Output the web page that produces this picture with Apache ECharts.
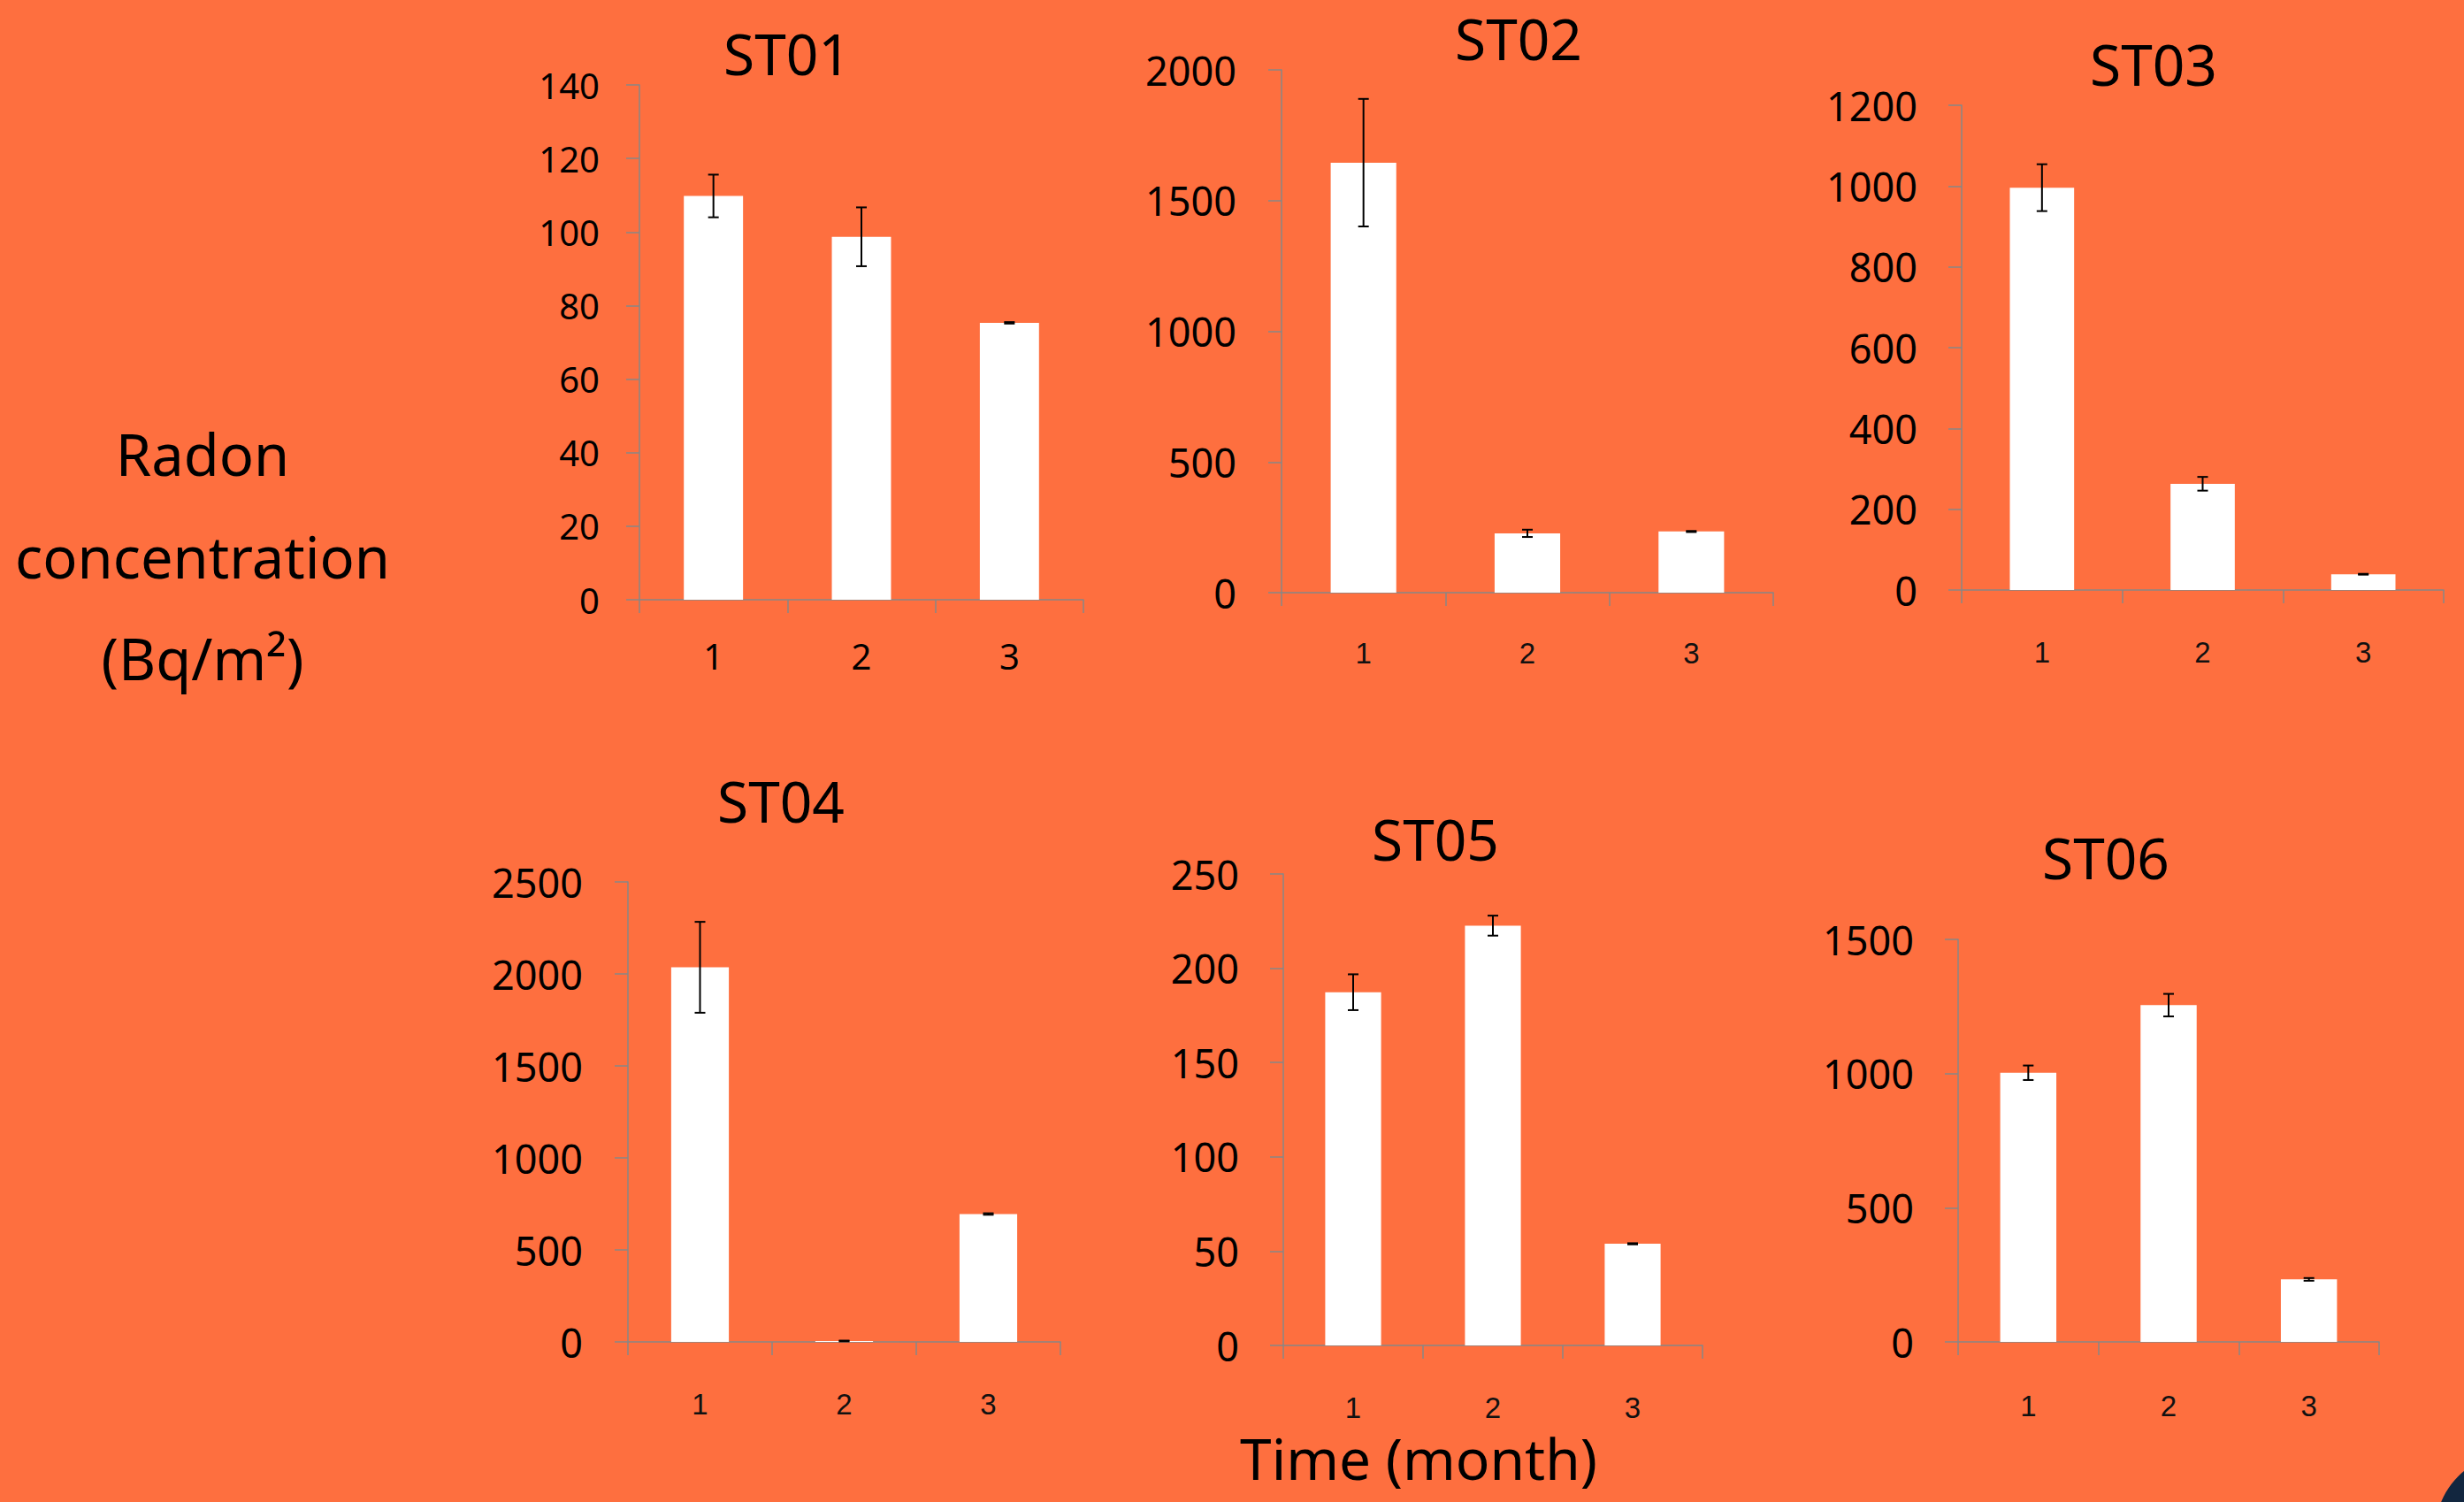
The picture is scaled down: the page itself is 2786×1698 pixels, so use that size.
<!DOCTYPE html>
<html>
<head>
<meta charset="utf-8">
<title>Radon concentration</title>
<script src="https://cdn.jsdelivr.net/npm/echarts@6/dist/echarts.min.js"></script>
<style>
  html, body { margin: 0; padding: 0; background: #FE6F3F; }
  #chart { width: 2786px; height: 1698px; }
</style>
</head>
<body>
<div id="chart"></div>
<script>
// ---------- DATA ----------
const categories = ['1', '2', '3'];
const stations = ['ST01', 'ST02', 'ST03', 'ST04', 'ST05', 'ST06'];

const st01Values = [109.8, 98.7, 75.3];
const st01Errors = [5.8, 8.0, 0.2];
const st02Values = [1645, 227, 234];
const st02Errors = [244, 14, 2];
const st03Values = [996, 263, 39];
const st03Errors = [58, 17, 1];
const st04Values = [2036, 5, 695];
const st04Errors = [247, 2, 4];
const st05Values = [187.3, 222.6, 53.9];
const st05Errors = [9.5, 5.3, 0.3];
const st06Values = [1003, 1255, 233];
const st06Errors = [27, 42, 5];

const yMaxes = [140, 2000, 1200, 2500, 250, 1500];
const yIntervals = [20, 500, 200, 500, 50, 500];

const yAxisTitle = ['Radon', 'concentration', '(Bq/m\u00B2)'];
const xAxisTitle = 'Time (month)';

// ---------- LAYOUT ----------
const allValues = [st01Values, st02Values, st03Values, st04Values, st05Values, st06Values];
const allErrors = [st01Errors, st02Errors, st03Errors, st04Errors, st05Errors, st06Errors];

const grids = [
  { left: 723, top: 96, width: 502, height: 582 },
  { left: 1449, top: 79, width: 556, height: 591 },
  { left: 2218, top: 119, width: 545, height: 548 },
  { left: 710, top: 997, width: 489, height: 520 },
  { left: 1451, top: 988, width: 474, height: 533 },
  { left: 2214, top: 1062, width: 476, height: 455 }
];
const titlePos = [[890, 60], [1717, 43], [2435, 72], [883, 905], [1623, 948], [2381, 969]];
const yLabelSize = [40, 45, 45, 45, 45, 45];
const yLabelMargin = [45, 51, 50, 51, 50, 50];
const xLabelMargin = [43, 52, 54, 54, 54, 56];

const axisGray = '#878787';
const mainFont = "'Noto Sans', 'Open Sans', sans-serif";
const tickFont = "'Liberation Sans', Arial, sans-serif";

const chart = echarts.init(document.getElementById('chart'), null, { renderer: 'svg' });

function errorRenderItem(params, api) {
  const x = api.value(0);
  const lo = api.value(1);
  const hi = api.value(2);
  const pHi = api.coord([x, hi]);
  const pLo = api.coord([x, lo]);
  const hw = 6;
  const st = { stroke: '#000', lineWidth: 2 };
  return {
    type: 'group',
    children: [
      { type: 'line', shape: { x1: pHi[0], y1: pHi[1], x2: pLo[0], y2: pLo[1] }, style: st },
      { type: 'line', shape: { x1: pHi[0] - hw, y1: pHi[1], x2: pHi[0] + hw, y2: pHi[1] }, style: st },
      { type: 'line', shape: { x1: pLo[0] - hw, y1: pLo[1], x2: pLo[0] + hw, y2: pLo[1] }, style: st }
    ]
  };
}

const xAxes = [], yAxes = [], series = [], graphics = [];

stations.forEach((name, i) => {
  xAxes.push({
    type: 'category',
    gridIndex: i,
    data: categories,
    axisLine: { lineStyle: { color: axisGray, width: 1.5 } },
    axisTick: { show: true, length: 15, lineStyle: { color: axisGray, width: 1.5 } },
    axisLabel: {
      color: i === 0 ? '#000' : '#111',
      fontSize: i === 0 ? 40 : 33,
      fontFamily: i === 0 ? mainFont : tickFont,
      margin: xLabelMargin[i]
    },
    splitLine: { show: false }
  });
  yAxes.push({
    type: 'value',
    gridIndex: i,
    min: 0,
    max: yMaxes[i],
    interval: yIntervals[i],
    axisLine: { show: true, lineStyle: { color: axisGray, width: 1.5 } },
    axisTick: { show: true, length: 15, lineStyle: { color: axisGray, width: 1.5 } },
    axisLabel: {
      color: '#000',
      fontSize: yLabelSize[i],
      fontFamily: mainFont,
      margin: yLabelMargin[i],
      formatter: (v) => String(v)
    },
    splitLine: { show: false }
  });
  series.push({
    type: 'bar',
    name: name,
    xAxisIndex: i,
    yAxisIndex: i,
    data: allValues[i],
    barWidth: '40%',
    itemStyle: { color: '#ffffff' },
    silent: true,
    z: 2
  });
  series.push({
    type: 'custom',
    name: name + ' error',
    xAxisIndex: i,
    yAxisIndex: i,
    renderItem: errorRenderItem,
    encode: { x: 0, y: [1, 2] },
    data: allValues[i].map((v, k) => [k, v - allErrors[i][k], v + allErrors[i][k]]),
    silent: true,
    z: 5
  });
  graphics.push({
    type: 'text',
    x: titlePos[i][0],
    y: titlePos[i][1],
    style: {
      text: name,
      fill: '#000',
      font: "64px " + mainFont,
      textAlign: 'center',
      textVerticalAlign: 'middle'
    }
  });
});

const leftLineY = [513, 629, 744];
yAxisTitle.forEach((t, k) => {
  graphics.push({
    type: 'text',
    x: 229,
    y: leftLineY[k],
    style: { text: t, fill: '#000', font: "65px " + mainFont, textAlign: 'center', textVerticalAlign: 'middle' }
  });
});
graphics.push({
  type: 'text',
  x: 1604,
  y: 1648,
  style: { text: xAxisTitle, fill: '#000', font: "64px " + mainFont, textAlign: 'center', textVerticalAlign: 'middle' }
});
graphics.push({
  type: 'circle',
  shape: { cx: 2840, cy: 1730, r: 86 },
  style: { fill: '#12263F' },
  z: 10
});

chart.setOption({
  backgroundColor: '#FE6F3F',
  animation: false,
  grid: grids,
  xAxis: xAxes,
  yAxis: yAxes,
  series: series,
  graphic: graphics
});
</script>
</body>
</html>
